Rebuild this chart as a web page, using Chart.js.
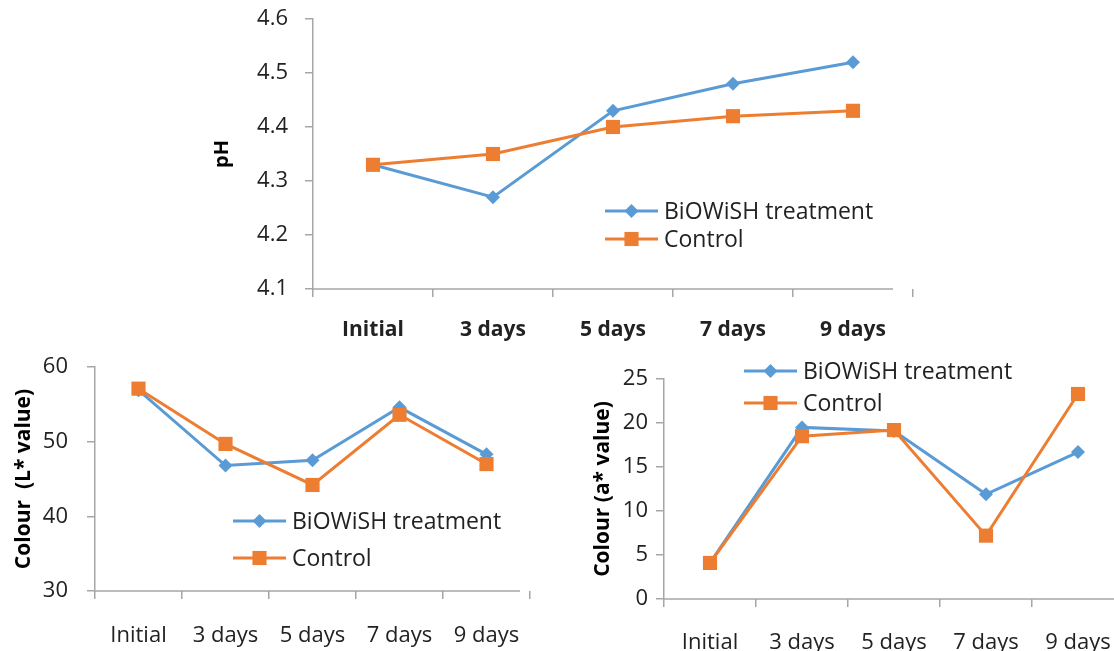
<!DOCTYPE html>
<html>
<head>
<meta charset="utf-8">
<title>pH and colour during storage</title>
<script src="https://cdn.jsdelivr.net/npm/chart.js"></script>
<style>
  html, body { margin: 0; padding: 0; background: #ffffff; }
  body { width: 1114px; height: 651px; overflow: hidden; position: relative; }
  canvas { position: absolute; display: block; }
</style>
</head>
<body>
<canvas id="phChart" width="740" height="365" style="left:200px;top:-20px"></canvas>
<canvas id="lChart" width="560" height="321" style="left:0px;top:330px"></canvas>
<canvas id="aChart" width="580" height="330" style="left:560px;top:330px"></canvas>
<script>
// Storage time points
const categories = ['Initial', '3 days', '5 days', '7 days', '9 days'];
const seriesNames = ['BiOWiSH treatment', 'Control'];

// pH
const phTreatment = [4.33, 4.27, 4.43, 4.48, 4.52];
const phControl   = [4.33, 4.35, 4.40, 4.42, 4.43];
const phTicks = [4.1, 4.2, 4.3, 4.4, 4.5, 4.6];

// Colour, L* value
const lTreatment = [56.9, 46.8, 47.5, 54.6, 48.3];
const lControl   = [57.1, 49.7, 44.2, 53.6, 47.0];
const lTicks = [30, 40, 50, 60];

// Colour, a* value
const aTreatment = [4.1, 19.5, 19.1, 11.9, 16.7];
const aControl   = [4.1, 18.5, 19.2, 7.2, 23.3];
const aTicks = [0, 5, 10, 15, 20, 25];

const BLUE = '#5B9BD5';
const ORANGE = '#ED7D31';
const AXIS = '#A6A6A6';
const TEXT = '#222222';
const FONT = "'Open Sans', 'Liberation Sans', sans-serif";

function drawMarker(ctx, style, x, y, r, color) {
  ctx.fillStyle = color;
  ctx.beginPath();
  if (style === 'rectRot') {
    ctx.moveTo(x - r, y); ctx.lineTo(x, y - r); ctx.lineTo(x + r, y); ctx.lineTo(x, y + r);
  } else {
    const s = r * Math.SQRT1_2;
    ctx.rect(x - s, y - s, 2 * s, 2 * s);
  }
  ctx.closePath();
  ctx.fill();
}

// Legend drawn inside the plot, Excel style: line segment with marker, then name
const inlineLegend = {
  id: 'inlineLegend',
  afterDraw(chart, args, opts) {
    const ctx = chart.ctx;
    ctx.save();
    ctx.font = '23px ' + FONT;
    ctx.textBaseline = 'middle';
    ctx.textAlign = 'left';
    seriesNames.forEach((name, i) => {
      const ds = chart.data.datasets.find(d => d.label === name);
      const y = opts.y + i * opts.gap;
      ctx.strokeStyle = ds.borderColor;
      ctx.lineWidth = ds.borderWidth;
      ctx.beginPath();
      ctx.moveTo(opts.x, y);
      ctx.lineTo(opts.x + 53, y);
      ctx.stroke();
      drawMarker(ctx, ds.pointStyle, opts.x + 26.5, y, ds.pointRadius, ds.borderColor);
      ctx.fillStyle = TEXT;
      ctx.fillText(name, opts.x + 59, y + 1);
    });
    ctx.restore();
  }
};

// Category axis line that stops short of the right edge of the plot
const baseLine = {
  id: 'baseLine',
  beforeDatasetsDraw(chart, args, opts) {
    const a = chart.chartArea, ctx = chart.ctx;
    ctx.save();
    ctx.strokeStyle = AXIS;
    ctx.lineWidth = 1.5;
    ctx.beginPath();
    ctx.moveTo(a.left, a.bottom);
    ctx.lineTo(a.right - opts.trim, a.bottom);
    ctx.stroke();
    ctx.restore();
  }
};

function makeChart(id, cfg) {
  const canvas = document.getElementById(id);
  const W = canvas.width, H = canvas.height;
  const area = cfg.area;
  return new Chart(canvas, {
    type: 'line',
    data: {
      labels: categories,
      datasets: [
        {
          label: seriesNames[0], data: cfg.treatment,
          borderColor: BLUE, backgroundColor: BLUE, borderWidth: 3,
          pointStyle: 'rectRot', pointRadius: 7, pointBorderWidth: 0,
          pointBackgroundColor: BLUE, tension: 0, order: 1
        },
        {
          label: seriesNames[1], data: cfg.control,
          borderColor: ORANGE, backgroundColor: ORANGE, borderWidth: 3,
          pointStyle: 'rect', pointRadius: 10, pointBorderWidth: 0,
          pointBackgroundColor: ORANGE, tension: 0, order: 0
        }
      ]
    },
    options: {
      responsive: false,
      animation: false,
      devicePixelRatio: 1,
      events: [],
      layout: { padding: { left: 0, top: area.top, right: W - area.right, bottom: 0 } },
      plugins: {
        legend: { display: false },
        tooltip: { enabled: false },
        inlineLegend: cfg.legend,
        baseLine: { trim: cfg.trim }
      },
      scales: {
        x: {
          type: 'category',
          offset: true,
          border: { display: false },
          grid: {
            offset: true, drawOnChartArea: false, drawTicks: true, tickLength: 8,
            lineWidth: 1.5,
            color: (c) => (c.index === categories.length && cfg.trim > 0) ? 'rgba(0,0,0,0)' : AXIS
          },
          ticks: {
            color: TEXT, padding: cfg.xPad, maxRotation: 0, autoSkip: false,
            font: { family: FONT, size: cfg.xFontSize, weight: cfg.xBold ? 'bold' : 'normal' }
          },
          afterFit: (s) => { s.height = H - area.bottom; }
        },
        y: {
          min: cfg.ticks[0], max: cfg.ticks[cfg.ticks.length - 1],
          border: { display: true, color: AXIS, width: 1.5 },
          grid: { drawOnChartArea: false, drawTicks: true, tickLength: 8, color: AXIS, lineWidth: 1.5 },
          afterBuildTicks: (s) => { s.ticks = cfg.ticks.map(v => ({ value: v })); },
          ticks: {
            color: TEXT, padding: cfg.yPad,
            font: { family: FONT, size: 22 },
            callback: (v) => v.toFixed(cfg.decimals)
          },
          title: {
            display: true, text: cfg.title, color: '#000000',
            padding: { top: cfg.titlePad, bottom: 0 },
            font: { family: FONT, size: cfg.titleSize, weight: 'bold' }
          },
          afterFit: (s) => { s.width = area.left; }
        }
      }
    },
    plugins: [inlineLegend, baseLine]
  });
}

makeChart('phChart', {
  treatment: phTreatment, control: phControl, ticks: phTicks, decimals: 1,
  area: { left: 113, top: 39, right: 713, bottom: 309 },
  title: 'pH', titleSize: 20, titlePad: 10,
  xFontSize: 21, xBold: true, xPad: 20, yPad: 17, trim: 20,
  legend: { x: 405, y: 231, gap: 28 }
});

makeChart('lChart', {
  treatment: lTreatment, control: lControl, ticks: lTicks, decimals: 0,
  area: { left: 95, top: 37, right: 530, bottom: 261 },
  title: 'Colour  (L* value)', titleSize: 21, titlePad: 11,
  xFontSize: 22, xBold: false, xPad: 24, yPad: 19, trim: 10,
  legend: { x: 233, y: 191, gap: 37 }
});

makeChart('aChart', {
  treatment: aTreatment, control: aControl, ticks: aTicks, decimals: 0,
  area: { left: 104, top: 49, right: 564, bottom: 269 },
  title: 'Colour (a* value)', titleSize: 21, titlePad: 30,
  xFontSize: 22, xBold: false, xPad: 23, yPad: 8, trim: 0,
  legend: { x: 184, y: 41, gap: 32 }
});
</script>
</body>
</html>
